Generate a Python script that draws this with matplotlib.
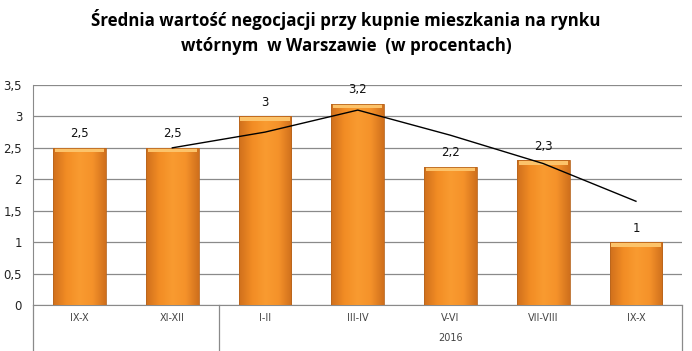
import numpy as np
import matplotlib.pyplot as plt
from matplotlib.colors import LinearSegmentedColormap

categories = ["IX-X", "XI-XII", "I-II", "III-IV", "V-VI", "VII-VIII", "IX-X"]
values = [2.5, 2.5, 3.0, 3.2, 2.2, 2.3, 1.0]
value_labels = ["2,5", "2,5", "3", "3,2", "2,2", "2,3", "1"]
# trend line (2-period moving average as shown in chart)
trend_x = [1, 2, 3, 4, 5, 6]
trend_y = [2.5, 2.75, 3.1, 2.7, 2.25, 1.65]
yticks = [0, 0.5, 1, 1.5, 2, 2.5, 3, 3.5]
year_label = "2016"
title = "Średnia wartość negocjacji przy kupnie mieszkania na rynku\nwtórnym  w Warszawie  (w procentach)"

fig = plt.figure(figsize=(6.92, 3.51), dpi=100)
ax = fig.add_axes([0.048, 0.131, 0.938, 0.627])

x = np.arange(len(categories))
bar_w = 0.57
bars = ax.bar(x, values, width=bar_w, color="none", edgecolor="none", zorder=3)

# cylinder-like orange gradient
cmap = LinearSegmentedColormap.from_list(
    "orng", ["#cf6f1c", "#f28c24", "#f99b30", "#f5922a", "#cf6f1c"])
grad = np.linspace(0, 1, 256).reshape(1, -1)
for b in bars:
    x0, w, h = b.get_x(), b.get_width(), b.get_height()
    im = ax.imshow(grad, cmap=cmap, aspect="auto", extent=[x0, x0 + w, 0, h],
                   zorder=3, interpolation="bicubic")
    im.set_clip_path(b)
    ax.add_patch(plt.Rectangle((x0 + 0.02, h - 0.07), w - 0.04, 0.06,
                               color="#fcc36a", lw=0, zorder=4))
    ax.add_patch(plt.Rectangle((x0, 0), w, h, fill=False, ec="#b8651e",
                               lw=0.6, zorder=4))

for xi, v, lab in zip(x, values, value_labels):
    ax.text(xi, v + 0.12, lab, ha="center", va="bottom", fontsize=8.5,
            family="DejaVu Sans", color="#111111")

ax.plot(trend_x, trend_y, color="black", lw=1.0, zorder=5)

ax.set_xlim(-0.5, len(categories) - 0.5)
ax.set_ylim(0, 3.5)
ax.set_yticks(yticks)
ax.set_yticklabels([f"{t:g}".replace(".", ",") for t in yticks],
                   fontsize=8.5, color="#222222", family="DejaVu Sans")
ax.grid(axis="y", color="#8a8a8a", lw=0.9, zorder=0)
ax.set_axisbelow(True)
for s in ["top", "right"]:
    ax.spines[s].set_visible(False)
ax.spines["left"].set_color("#8a8a8a")
ax.spines["bottom"].set_color("#8a8a8a")
ax.tick_params(axis="y", length=0, pad=8)
ax.tick_params(axis="x", length=0)
ax.set_xticks(x)
ax.set_xticklabels(categories, fontsize=7, color="#444444",
                   family="Liberation Sans Narrow")
ax.tick_params(axis="x", pad=6)

# multi-level category axis separators
trans = ax.get_xaxis_transform()
for sx in [-0.5, 1.5, len(categories) - 0.5]:
    ax.plot([sx, sx], [0, -0.3], color="#8a8a8a", lw=0.9, transform=trans,
            clip_on=False)
ax.text(4.0, -0.15, year_label, transform=trans, ha="center", va="center",
        fontsize=7, color="#444444", family="Liberation Sans Narrow")

fig.text(0.5, 0.975, title, ha="center", va="top", fontsize=12.2,
         fontweight="bold", family="Open Sans", linespacing=1.5)

fig.savefig("out.png", dpi=100)
